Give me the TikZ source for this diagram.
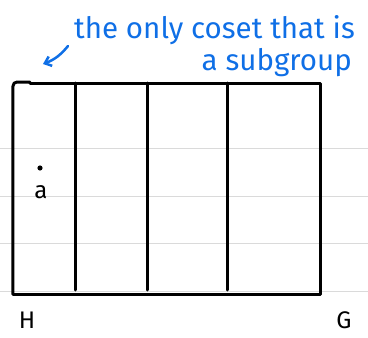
\documentclass[tikz,border=0pt]{standalone}
\usepackage{fontspec}
\setmainfont{Fira Sans}
\usepackage{tikz}
\usetikzlibrary{arrows.meta,positioning}
\definecolor{inkblue}{HTML}{0F6FE6}
\definecolor{ruleGray}{HTML}{DADADA}

\begin{document}
\begin{tikzpicture}[x=1pt,y=-1pt,>={Straight Barb[length=6pt,width=10pt]},
  ink/.style={line width=3pt,line cap=round,line join=round},
  note/.style={text=inkblue,font=\fontsize{29.5}{31}\selectfont,inner sep=0pt},
  lbl/.style={font=\fontsize{24}{26}\selectfont,inner sep=0pt}]
\useasboundingbox (0,0) rectangle (368,338);
% ruled paper
\foreach \y in {148,196,243,291,338}
  \draw[ruleGray,line width=1pt] (0,\y) -- (368,\y);
% the group G cut into cosets
\draw[ink,rounded corners=4pt] (30,82) -- (13,82) -- (13,294);
\draw[ink] (13,294) -- (321,294) -- (321,83) -- (30,83);
\foreach \x in {76,148,228}
  \draw[ink] (\x,83) -- (\x,290);
\coordinate (corner) at (43,64);
\coordinate (tail) at (68,46);
% point a in H
\fill (40,168) circle (2.6pt);
\node[lbl] (a) at (41,192) {a};
\node[lbl] (H) at (27,320) {H};
\node[lbl] (G) at (344,320) {G};
% comment
\node[note,anchor=base east] (note1) at (355,38) {the only coset that is};
\node[note,anchor=base east] (note2) at (352,70) {a subgroup};
\draw[->,inkblue,line width=2.5pt,line cap=round] (tail) to[bend left=15] (corner);
\end{tikzpicture}
\end{document}
